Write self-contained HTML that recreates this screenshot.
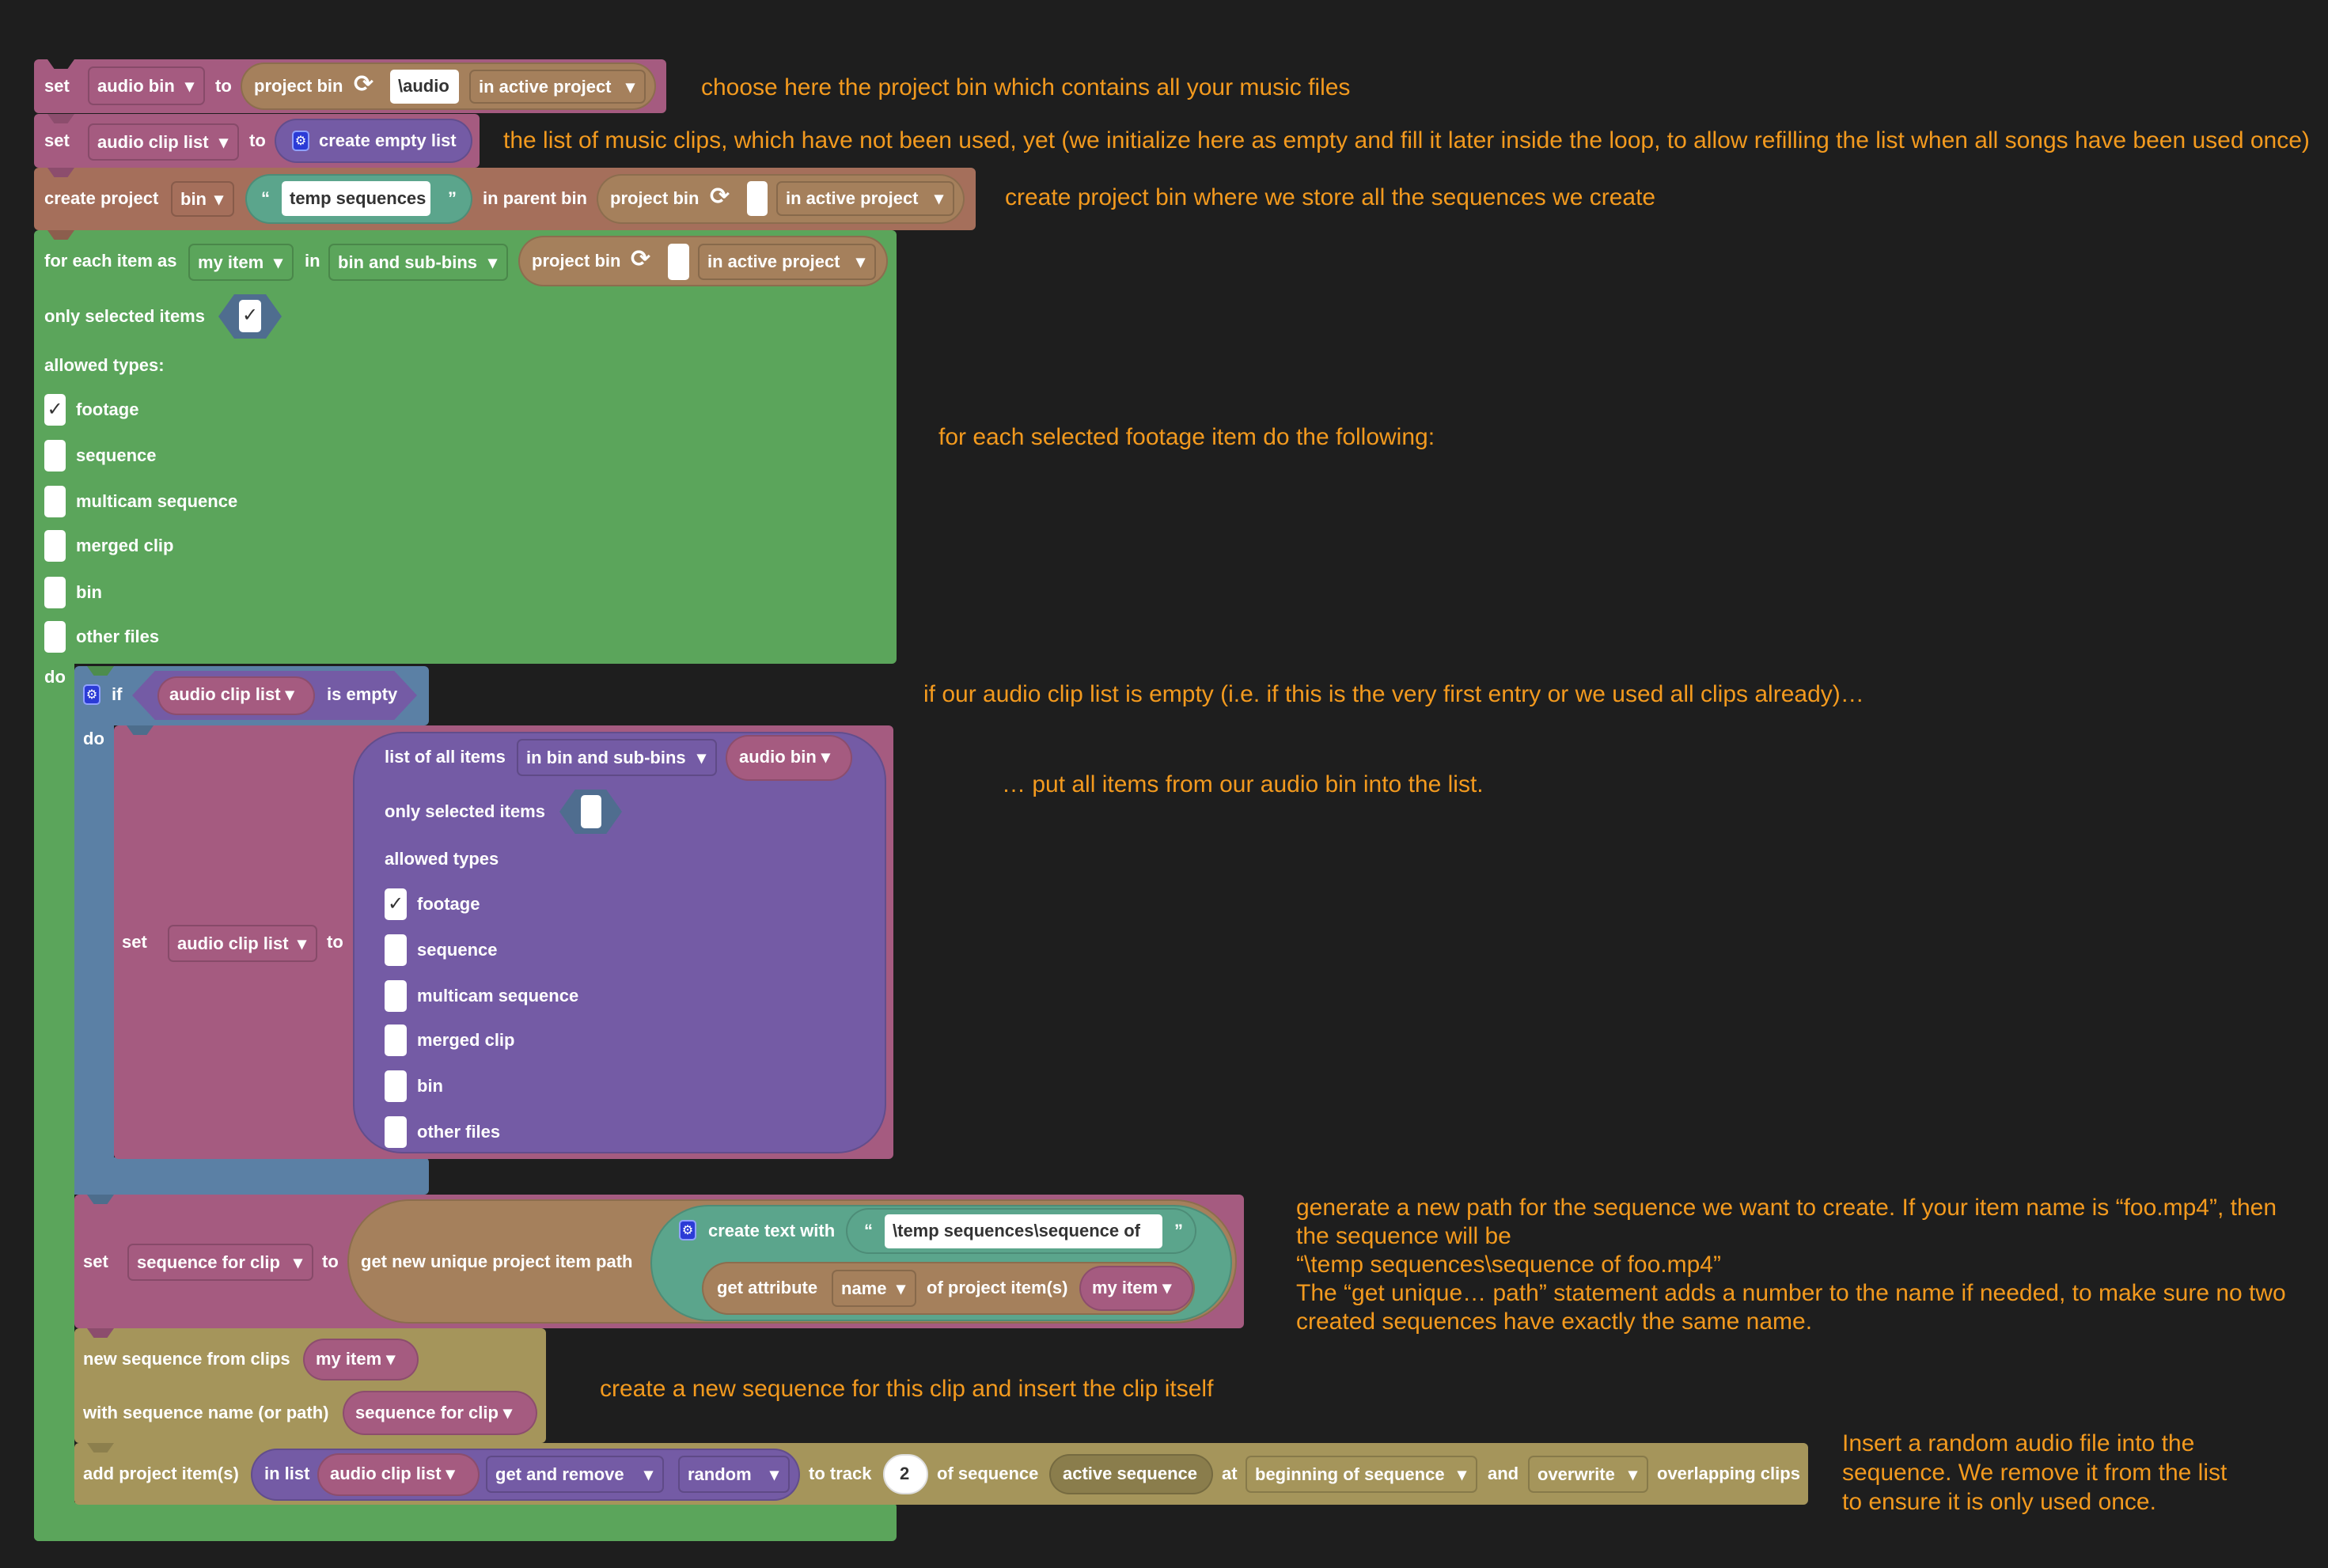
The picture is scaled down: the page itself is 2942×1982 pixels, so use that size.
<!DOCTYPE html>
<html><head><meta charset="utf-8">
<style>
body{margin:0;background:#1e1e1e;width:2942px;height:1982px;overflow:hidden;position:relative;font-family:"Liberation Sans",sans-serif}
div{box-sizing:border-box}
.b{position:absolute;border-radius:6px}
.t{position:absolute;color:#fff;font:bold 22px/24px "Liberation Sans",sans-serif;white-space:nowrap}
.dd{position:absolute;border:2px solid rgba(0,0,0,.18);border-radius:7px;color:#fff;font:bold 22px/24px "Liberation Sans",sans-serif;white-space:nowrap;display:flex;align-items:center;justify-content:space-between;padding:0 12px 0 10px}
.dd:after{content:"\25BE";font-size:22px;margin-left:8px}
.p{position:absolute;border-radius:999px;border:2px solid rgba(0,0,0,.15)}
.w{position:absolute;background:#fff;border-radius:5px}
.a{position:absolute;color:#f39a1e;font:30px/30px "Liberation Sans",sans-serif;white-space:nowrap}
.n{position:absolute;width:34px;height:12px;background:#1e1e1e;clip-path:polygon(0 0,100% 0,75% 100%,25% 100%)}
.ck{position:absolute;background:#fff;border-radius:5px;color:#333;font:bold 24px/38px "DejaVu Sans",sans-serif;text-align:center}
.g{position:absolute;width:22px;height:26px;background:#2b3bd6;border:2px solid #8fa0ff;border-radius:5px;color:#fff;font:16px/22px "DejaVu Sans",sans-serif;text-align:center}
.hx{position:absolute;background:#4f6d8f;clip-path:polygon(0 50%,25% 0,75% 0,100% 50%,75% 100%,25% 100%)}
.ic{position:absolute;color:#fff;font:bold 30px/30px "DejaVu Sans",sans-serif}
</style></head><body>

<!-- block 1 -->
<div class="b" style="left:43px;top:75px;width:799px;height:68px;background:#a55b80"></div>
<div class="t" style="left:56px;top:97px">set</div>
<div class="dd" style="left:111px;top:84px;width:148px;height:49px">audio bin</div>
<div class="t" style="left:272px;top:97px">to</div>
<div class="p" style="left:304px;top:79px;width:525px;height:60px;background:#a5805c"></div>
<div class="t" style="left:321px;top:97px">project bin</div>
<div class="ic" style="left:447px;top:92px">⟳</div>
<div class="w" style="left:493px;top:88px;width:87px;height:43px"></div>
<div class="t" style="left:503px;top:97px;color:#333">\audio</div>
<div class="dd" style="left:593px;top:88px;width:223px;height:43px">in active project</div>
<div class="a" style="left:886px;top:96px">choose here the project bin which contains all your music files</div>

<!-- block 2 -->
<div class="b" style="left:43px;top:144px;width:563px;height:68px;background:#a55b80"></div>
<div class="t" style="left:56px;top:166px">set</div>
<div class="dd" style="left:111px;top:156px;width:191px;height:47px">audio clip list</div>
<div class="t" style="left:315px;top:166px">to</div>
<div class="p" style="left:347px;top:150px;width:250px;height:56px;background:#745ba5"></div>
<div class="g" style="left:369px;top:165px">⚙</div>
<div class="t" style="left:403px;top:166px">create empty list</div>
<div class="a" style="left:636px;top:163px">the list of music clips, which have not been used, yet (we initialize here as empty and fill it later inside the loop, to allow refilling the list when all songs have been used once)</div>

<!-- block 3 -->
<div class="b" style="left:43px;top:212px;width:1190px;height:79px;background:#a56f5b"></div>
<div class="t" style="left:56px;top:239px">create project</div>
<div class="dd" style="left:216px;top:229px;width:80px;height:45px">bin</div>
<div class="p" style="left:310px;top:220px;width:287px;height:63px;background:#5ba58c"></div>
<div class="t" style="left:330px;top:239px">“</div>
<div class="w" style="left:356px;top:229px;width:188px;height:44px"></div>
<div class="t" style="left:366px;top:239px;color:#333">temp sequences</div>
<div class="t" style="left:566px;top:239px">”</div>
<div class="t" style="left:610px;top:239px">in parent bin</div>
<div class="p" style="left:754px;top:220px;width:465px;height:63px;background:#a5805c"></div>
<div class="t" style="left:771px;top:239px">project bin</div>
<div class="ic" style="left:897px;top:234px">⟳</div>
<div class="w" style="left:944px;top:229px;width:26px;height:44px"></div>
<div class="dd" style="left:981px;top:229px;width:225px;height:44px">in active project</div>
<div class="a" style="left:1270px;top:235px">create project bin where we store all the sequences we create</div>

<!-- green for-each -->
<div class="b" style="left:43px;top:291px;width:1090px;height:548px;background:#5ba55b"></div>
<div class="b" style="left:43px;top:830px;width:51px;height:1118px;background:#5ba55b;border-radius:0 0 0 6px"></div>
<div class="b" style="left:43px;top:1899px;width:1090px;height:49px;background:#5ba55b"></div>
<div class="t" style="left:56px;top:318px">for each item as</div>
<div class="dd" style="left:238px;top:308px;width:133px;height:47px">my item</div>
<div class="t" style="left:385px;top:318px">in</div>
<div class="dd" style="left:415px;top:308px;width:227px;height:47px">bin and sub-bins</div>
<div class="p" style="left:655px;top:298px;width:467px;height:64px;background:#a5805c"></div>
<div class="t" style="left:672px;top:318px">project bin</div>
<div class="ic" style="left:797px;top:313px">⟳</div>
<div class="w" style="left:844px;top:308px;width:27px;height:46px"></div>
<div class="dd" style="left:882px;top:308px;width:225px;height:46px">in active project</div>
<div class="t" style="left:56px;top:388px">only selected items</div>
<div class="hx" style="left:276px;top:372px;width:80px;height:56px"></div>
<div class="ck" style="left:302px;top:379px;width:28px;height:41px">✓</div>
<div class="t" style="left:56px;top:450px">allowed types:</div>
<div class="ck" style="left:56px;top:498px;width:27px;height:40px">✓</div><div class="t" style="left:96px;top:506px">footage</div>
<div class="ck" style="left:56px;top:556px;width:27px;height:40px"></div><div class="t" style="left:96px;top:564px">sequence</div>
<div class="ck" style="left:56px;top:614px;width:27px;height:40px"></div><div class="t" style="left:96px;top:622px">multicam sequence</div>
<div class="ck" style="left:56px;top:670px;width:27px;height:40px"></div><div class="t" style="left:96px;top:678px">merged clip</div>
<div class="ck" style="left:56px;top:729px;width:27px;height:40px"></div><div class="t" style="left:96px;top:737px">bin</div>
<div class="ck" style="left:56px;top:785px;width:27px;height:40px"></div><div class="t" style="left:96px;top:793px">other files</div>
<div class="t" style="left:56px;top:844px">do</div>
<div class="a" style="left:1186px;top:538px">for each selected footage item do the following:</div>

<!-- blue if -->
<div class="b" style="left:94px;top:842px;width:448px;height:75px;background:#5b80a5"></div>
<div class="b" style="left:94px;top:900px;width:50px;height:610px;background:#5b80a5;border-radius:0"></div>
<div class="b" style="left:94px;top:1463px;width:448px;height:47px;background:#5b80a5"></div>
<div class="g" style="left:105px;top:865px">⚙</div>
<div class="t" style="left:141px;top:866px">if</div>
<div class="hx" style="left:167px;top:848px;width:360px;height:62px;background:#745ba5;clip-path:polygon(0 50%,8% 0,92% 0,100% 50%,92% 100%,8% 100%)"></div>
<div class="p" style="left:199px;top:855px;width:199px;height:49px;background:#a55b80"></div>
<div class="t" style="left:214px;top:866px">audio clip list ▾</div>
<div class="t" style="left:413px;top:866px">is empty</div>
<div class="t" style="left:105px;top:922px">do</div>
<div class="a" style="left:1167px;top:863px">if our audio clip list is empty (i.e. if this is the very first entry or we used all clips already)…</div>

<!-- pink set audio clip list -->
<div class="b" style="left:144px;top:917px;width:985px;height:548px;background:#a55b80"></div>
<div class="t" style="left:154px;top:1179px">set</div>
<div class="dd" style="left:212px;top:1169px;width:189px;height:47px">audio clip list</div>
<div class="t" style="left:413px;top:1179px">to</div>
<div class="b" style="left:446px;top:925px;width:674px;height:533px;background:#745ba5;border-radius:62px;border:2px solid rgba(0,0,0,.15)"></div>
<div class="t" style="left:486px;top:945px">list of all items</div>
<div class="dd" style="left:653px;top:934px;width:253px;height:47px">in bin and sub-bins</div>
<div class="p" style="left:917px;top:929px;width:160px;height:58px;background:#a55b80"></div>
<div class="t" style="left:934px;top:945px">audio bin ▾</div>
<div class="t" style="left:486px;top:1014px">only selected items</div>
<div class="hx" style="left:707px;top:998px;width:79px;height:56px"></div>
<div class="ck" style="left:734px;top:1005px;width:26px;height:42px"></div>
<div class="t" style="left:486px;top:1074px">allowed types</div>
<div class="ck" style="left:486px;top:1123px;width:28px;height:40px">✓</div><div class="t" style="left:527px;top:1131px">footage</div>
<div class="ck" style="left:486px;top:1181px;width:28px;height:40px"></div><div class="t" style="left:527px;top:1189px">sequence</div>
<div class="ck" style="left:486px;top:1239px;width:28px;height:40px"></div><div class="t" style="left:527px;top:1247px">multicam sequence</div>
<div class="ck" style="left:486px;top:1295px;width:28px;height:40px"></div><div class="t" style="left:527px;top:1303px">merged clip</div>
<div class="ck" style="left:486px;top:1353px;width:28px;height:40px"></div><div class="t" style="left:527px;top:1361px">bin</div>
<div class="ck" style="left:486px;top:1411px;width:28px;height:40px"></div><div class="t" style="left:527px;top:1419px">other files</div>
<div class="a" style="left:1266px;top:977px">… put all items from our audio bin into the list.</div>

<!-- pink set sequence for clip -->
<div class="b" style="left:94px;top:1510px;width:1478px;height:169px;background:#a55b80"></div>
<div class="t" style="left:105px;top:1583px">set</div>
<div class="dd" style="left:161px;top:1572px;width:235px;height:47px">sequence for clip</div>
<div class="t" style="left:407px;top:1583px">to</div>
<div class="b" style="left:439px;top:1516px;width:1124px;height:157px;background:#a5805c;border-radius:80px;border:2px solid rgba(0,0,0,.15)"></div>
<div class="t" style="left:456px;top:1583px">get new unique project item path</div>
<div class="b" style="left:822px;top:1523px;width:735px;height:147px;background:#5ba58c;border-radius:75px;border:2px solid rgba(0,0,0,.15)"></div>
<div class="g" style="left:858px;top:1542px">⚙</div>
<div class="t" style="left:895px;top:1544px">create text with</div>
<div class="p" style="left:1069px;top:1527px;width:443px;height:58px;background:#5ba58c"></div>
<div class="t" style="left:1092px;top:1544px">“</div>
<div class="w" style="left:1118px;top:1535px;width:351px;height:43px"></div>
<div class="t" style="left:1128px;top:1544px;color:#333">\temp sequences\sequence of</div>
<div class="t" style="left:1484px;top:1544px">”</div>
<div class="p" style="left:887px;top:1595px;width:623px;height:67px;background:#a5805c"></div>
<div class="t" style="left:906px;top:1616px">get attribute</div>
<div class="dd" style="left:1051px;top:1605px;width:107px;height:47px">name</div>
<div class="t" style="left:1171px;top:1616px">of project item(s)</div>
<div class="p" style="left:1364px;top:1600px;width:144px;height:57px;background:#a55b80"></div>
<div class="t" style="left:1380px;top:1616px">my item ▾</div>
<div class="a" style="left:1638px;top:1512px">generate a new path for the sequence we want to create. If your item name is “foo.mp4”, then</div>
<div class="a" style="left:1638px;top:1548px">the sequence will be</div>
<div class="a" style="left:1638px;top:1584px">“\temp sequences\sequence of foo.mp4”</div>
<div class="a" style="left:1638px;top:1620px">The “get unique… path” statement adds a number to the name if needed, to make sure no two</div>
<div class="a" style="left:1638px;top:1656px">created sequences have exactly the same name.</div>

<!-- olive new sequence -->
<div class="b" style="left:94px;top:1679px;width:596px;height:145px;background:#a5955b"></div>
<div class="t" style="left:105px;top:1706px">new sequence from clips</div>
<div class="p" style="left:383px;top:1692px;width:146px;height:53px;background:#a55b80"></div>
<div class="t" style="left:399px;top:1706px">my item ▾</div>
<div class="t" style="left:105px;top:1774px">with sequence name (or path)</div>
<div class="p" style="left:433px;top:1758px;width:246px;height:56px;background:#a55b80"></div>
<div class="t" style="left:449px;top:1774px">sequence for clip ▾</div>
<div class="a" style="left:758px;top:1741px">create a new sequence for this clip and insert the clip itself</div>

<!-- olive add -->
<div class="b" style="left:94px;top:1824px;width:2191px;height:78px;background:#a5955b"></div>
<div class="t" style="left:105px;top:1851px">add project item(s)</div>
<div class="p" style="left:317px;top:1831px;width:694px;height:66px;background:#745ba5"></div>
<div class="t" style="left:334px;top:1851px">in list</div>
<div class="p" style="left:401px;top:1837px;width:205px;height:54px;background:#a55b80"></div>
<div class="t" style="left:417px;top:1851px">audio clip list ▾</div>
<div class="dd" style="left:614px;top:1840px;width:225px;height:47px">get and remove</div>
<div class="dd" style="left:857px;top:1840px;width:141px;height:47px">random</div>
<div class="t" style="left:1022px;top:1851px">to track</div>
<div class="p" style="left:1116px;top:1838px;width:57px;height:51px;background:#fff;border-color:#ddd"></div>
<div class="t" style="left:1137px;top:1851px;color:#333">2</div>
<div class="t" style="left:1184px;top:1851px">of sequence</div>
<div class="p" style="left:1326px;top:1838px;width:207px;height:51px;background:#8a7d4c"></div>
<div class="t" style="left:1343px;top:1851px">active sequence</div>
<div class="t" style="left:1544px;top:1851px">at</div>
<div class="dd" style="left:1574px;top:1840px;width:293px;height:47px">beginning of sequence</div>
<div class="t" style="left:1880px;top:1851px">and</div>
<div class="dd" style="left:1931px;top:1840px;width:152px;height:47px">overwrite</div>
<div class="t" style="left:2094px;top:1851px">overlapping clips</div>
<div class="a" style="left:2328px;top:1810px">Insert a random audio file into the</div>
<div class="a" style="left:2328px;top:1847px">sequence. We remove it from the list</div>
<div class="a" style="left:2328px;top:1884px">to ensure it is only used once.</div>

<!-- notches -->
<div class="n" style="left:60px;top:75px"></div>
<div class="n" style="left:60px;top:144px;background:#8c4d6d"></div>
<div class="n" style="left:60px;top:212px;background:#8c4d6d"></div>
<div class="n" style="left:60px;top:291px;background:#8c5e4d"></div>
<div class="n" style="left:110px;top:842px;background:#4d8c4d"></div>
<div class="n" style="left:160px;top:917px;background:#4d6d8c"></div>
<div class="n" style="left:110px;top:1510px;background:#4d6d8c"></div>
<div class="n" style="left:110px;top:1679px;background:#8c4d6d"></div>
<div class="n" style="left:110px;top:1824px;background:#8c7f4d"></div>
</body></html>
